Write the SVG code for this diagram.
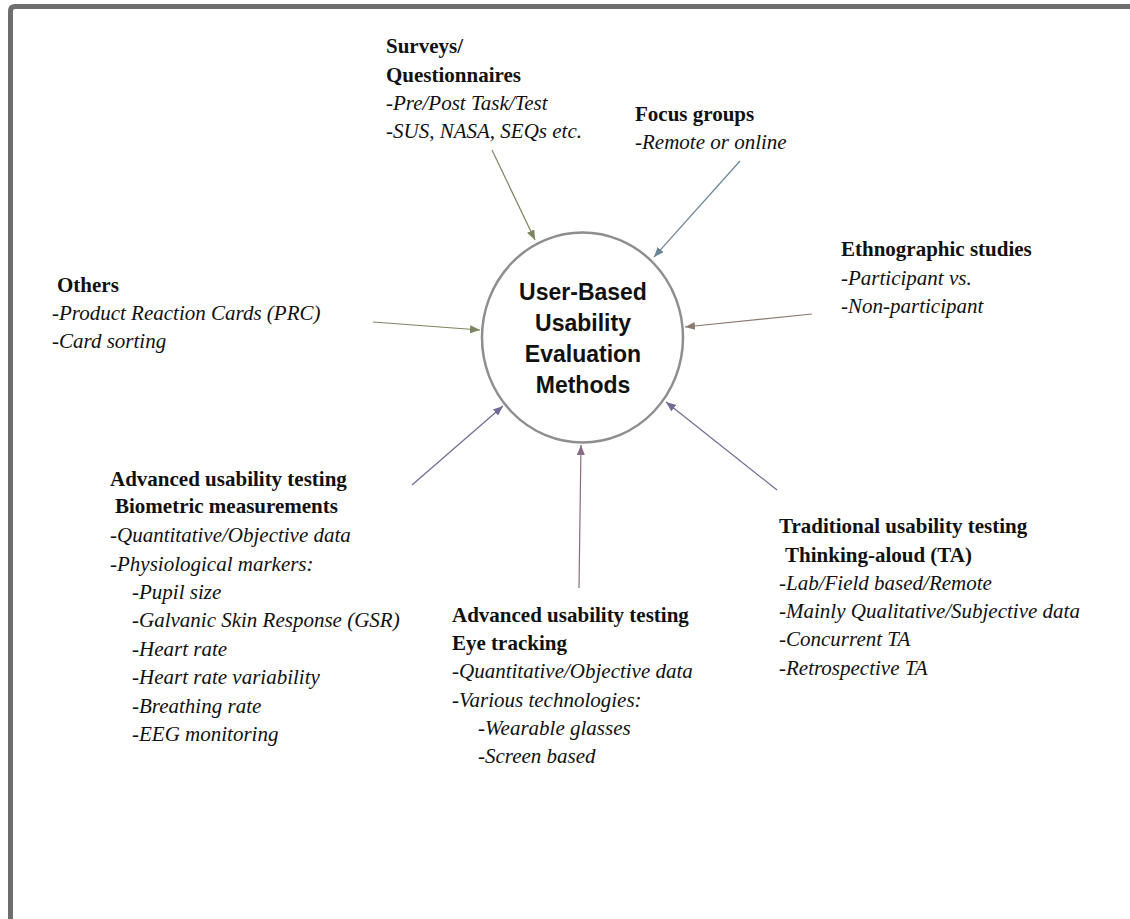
<svg xmlns="http://www.w3.org/2000/svg" width="1130" height="919" viewBox="0 0 1130 919">
<defs>
<style>
.t{font-family:"Liberation Serif","Times New Roman",serif;font-size:21px;fill:#111}
.b{font-weight:bold}
.i{font-style:italic}
.c{font-family:"Liberation Sans",Arial,sans-serif;font-size:23px;font-weight:bold;fill:#111;text-anchor:middle}
.ln{fill:none;stroke-width:1.2}
</style>
<marker id="mOl" markerUnits="userSpaceOnUse" markerWidth="11" markerHeight="9" refX="10" refY="4" orient="auto"><path d="M0,0 L10,4 L0,8 z" fill="#7b8660"/></marker>
<marker id="mSl" markerUnits="userSpaceOnUse" markerWidth="11" markerHeight="9" refX="10" refY="4" orient="auto"><path d="M0,0 L10,4 L0,8 z" fill="#6a8696"/></marker>
<marker id="mBr" markerUnits="userSpaceOnUse" markerWidth="11" markerHeight="9" refX="10" refY="4" orient="auto"><path d="M0,0 L10,4 L0,8 z" fill="#8c7a70"/></marker>
<marker id="mPu" markerUnits="userSpaceOnUse" markerWidth="11" markerHeight="9" refX="10" refY="4" orient="auto"><path d="M0,0 L10,4 L0,8 z" fill="#6f6a94"/></marker>
<marker id="mMv" markerUnits="userSpaceOnUse" markerWidth="11" markerHeight="9" refX="10" refY="4" orient="auto"><path d="M0,0 L10,4 L0,8 z" fill="#8a6b85"/></marker>
</defs>
<rect width="1130" height="919" fill="#ffffff"/>
<path d="M10.5,919 L10.5,11 Q10.5,6.5 15,6.5 L1130,6.5" fill="none" stroke="#6e6e6e" stroke-width="5"/>

<g id="connectors">
<line class="ln" x1="492" y1="150" x2="535" y2="240" stroke="#7b8660" marker-end="url(#mOl)"/>
<line class="ln" x1="740" y1="161" x2="654" y2="257" stroke="#6a8696" marker-end="url(#mSl)"/>
<line class="ln" x1="373" y1="322" x2="480" y2="330" stroke="#7b8660" marker-end="url(#mOl)"/>
<line class="ln" x1="812" y1="314" x2="685" y2="327" stroke="#8c7a70" marker-end="url(#mBr)"/>
<line class="ln" x1="412" y1="485" x2="503" y2="406" stroke="#6f6a94" marker-end="url(#mPu)"/>
<line class="ln" x1="579" y1="588" x2="581" y2="445" stroke="#8a6b85" marker-end="url(#mMv)"/>
<line class="ln" x1="777" y1="490" x2="666" y2="402" stroke="#6f6a94" marker-end="url(#mPu)"/>
</g>

<g id="center">
<ellipse cx="582.5" cy="337.5" rx="100.5" ry="105" fill="#ffffff" stroke="#8e8e8e" stroke-width="2.5"/>
<text class="c" x="583" y="300">User-Based</text>
<text class="c" x="583" y="331">Usability</text>
<text class="c" x="583" y="362">Evaluation</text>
<text class="c" x="583" y="393">Methods</text>
</g>

<g id="surveys">
<text class="t b" x="386" y="53">Surveys/</text>
<text class="t b" x="386" y="82">Questionnaires</text>
<text class="t i" x="386" y="110">-Pre/Post Task/Test</text>
<text class="t i" x="386" y="138">-SUS, NASA, SEQs etc.</text>
</g>

<g id="focus">
<text class="t b" x="635" y="121">Focus groups</text>
<text class="t i" x="635" y="149">-Remote or online</text>
</g>

<g id="ethnographic">
<text class="t b" x="841" y="256">Ethnographic studies</text>
<text class="t i" x="841" y="285">-Participant vs.</text>
<text class="t i" x="841" y="313">-Non-participant</text>
</g>

<g id="others">
<text class="t b" x="57" y="292">Others</text>
<text class="t i" x="52" y="320">-Product Reaction Cards (PRC)</text>
<text class="t i" x="52" y="348">-Card sorting</text>
</g>

<g id="biometric">
<text class="t b" x="110" y="486">Advanced usability testing</text>
<text class="t b" x="115" y="513">Biometric measurements</text>
<text class="t i" x="110" y="542">-Quantitative/Objective data</text>
<text class="t i" x="110" y="571">-Physiological markers:</text>
<text class="t i" x="132" y="599">-Pupil size</text>
<text class="t i" x="132" y="627">-Galvanic Skin Response (GSR)</text>
<text class="t i" x="132" y="656">-Heart rate</text>
<text class="t i" x="132" y="684">-Heart rate variability</text>
<text class="t i" x="132" y="713">-Breathing rate</text>
<text class="t i" x="132" y="741">-EEG monitoring</text>
</g>

<g id="eyetracking">
<text class="t b" x="452" y="622">Advanced usability testing</text>
<text class="t b" x="452" y="650">Eye tracking</text>
<text class="t i" x="452" y="678">-Quantitative/Objective data</text>
<text class="t i" x="452" y="707">-Various technologies:</text>
<text class="t i" x="478" y="735">-Wearable glasses</text>
<text class="t i" x="478" y="763">-Screen based</text>
</g>

<g id="traditional">
<text class="t b" x="779" y="533">Traditional usability testing</text>
<text class="t b" x="785" y="562">Thinking-aloud (TA)</text>
<text class="t i" x="779" y="590">-Lab/Field based/Remote</text>
<text class="t i" x="779" y="618">-Mainly Qualitative/Subjective data</text>
<text class="t i" x="779" y="646">-Concurrent TA</text>
<text class="t i" x="779" y="675">-Retrospective TA</text>
</g>
</svg>
